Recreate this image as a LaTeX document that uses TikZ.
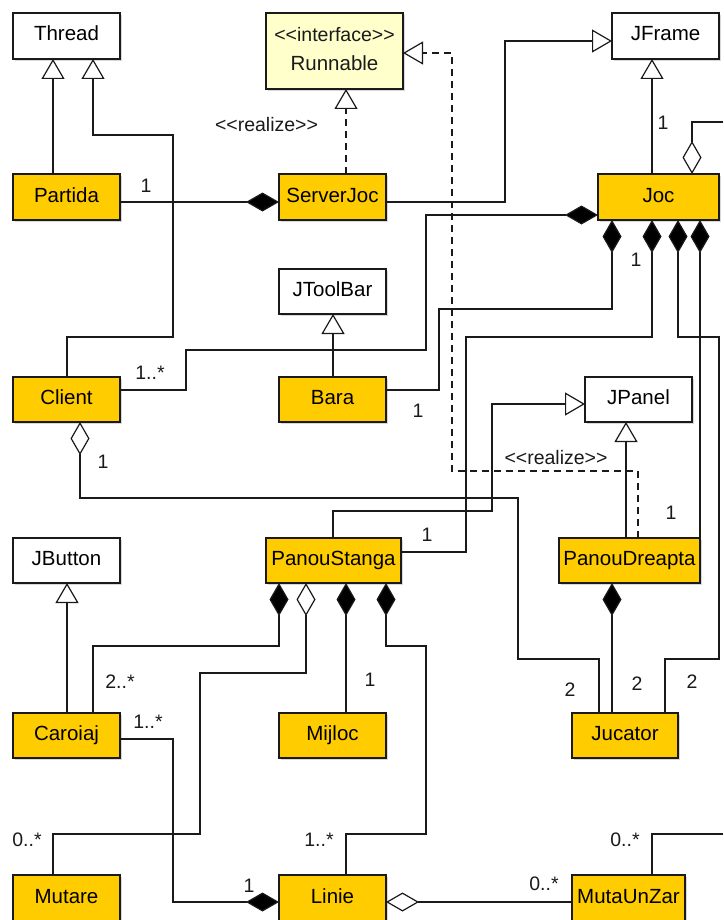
\documentclass[tikz,border=0pt]{standalone}
\usepackage{fontspec}
\setmainfont{Liberation Sans}
\usetikzlibrary{arrows.meta,shadows}
\definecolor{umlorange}{HTML}{FFCC00}
\definecolor{umlpale}{HTML}{FFFFCC}
\definecolor{umlline}{HTML}{1A1A1A}
\begin{document}
\begin{tikzpicture}[x=1pt,y=-1pt,
  font=\fontsize{19.5}{22}\selectfont,
  every node/.style={inner sep=0pt, outer sep=0pt},
  basebox/.style={draw=umlline, line width=1.2pt, text height=14.5pt, text depth=4.5pt,
    font=\fontsize{20.5}{23}\selectfont,
    drop shadow={shadow xshift=2pt, shadow yshift=-2pt, fill=black!30}},
  cls/.style={basebox, fill=umlorange},
  ext/.style={basebox, fill=white},
  iface/.style={basebox, fill=umlpale},
  conn/.style={draw=umlline, line width=1.2pt},
  gen/.style={conn, -{Triangle[fill=white, length=20pt, width=23pt, line width=1.2pt]}},
  real/.style={conn, dash pattern=on 7pt off 5pt, -{Triangle[fill=white, length=20pt, width=23pt, line width=1.2pt, sep=0pt]}},
  comp/.style={conn, -{Diamond[fill=black, length=33pt, width=19pt]}},
  agg/.style={conn, -{Diamond[fill=white, length=33pt, width=19pt, line width=1.2pt]}},
  lbl/.style={text=umlline}
]
\useasboundingbox (0,0) rectangle (723,920);
\clip (0,0) rectangle (723,920);

% external classes
\node[ext, minimum width=107pt, minimum height=46pt] (Thread) at (66.5,36) {Thread};
\node[iface, minimum width=137pt, minimum height=76pt] (Runnable) at (334.5,51) {};
\node[lbl] (RunStereo) at (334.5,35) {<{}<interface>{}>};
\node[lbl, font=\fontsize{20.5}{23}\selectfont] (RunName) at (334.5,63) {Runnable};
\node[ext, minimum width=107pt, minimum height=46pt] (JFrame) at (665.5,36) {JFrame};
\node[ext, minimum width=107pt, minimum height=45pt] (JToolBar) at (332.5,291.5) {JToolBar};
\node[ext, minimum width=107pt, minimum height=45pt] (JPanel) at (638.5,399.5) {JPanel};
\node[ext, minimum width=107pt, minimum height=45pt] (JButton) at (66.5,560.5) {JButton};

% project classes
\node[cls, minimum width=107pt, minimum height=46pt] (Partida) at (66.5,197) {Partida};
\node[cls, minimum width=107pt, minimum height=46pt] (ServerJoc) at (332.5,197) {ServerJoc};
\node[cls, minimum width=121pt, minimum height=46pt] (Joc) at (658.5,197) {Joc};
\node[cls, minimum width=107pt, minimum height=45pt] (Client) at (66.5,399.5) {Client};
\node[cls, minimum width=107pt, minimum height=45pt] (Bara) at (332.5,399.5) {Bara};
\node[cls, minimum width=135pt, minimum height=45pt] (PanouStanga) at (333.5,560.5) {PanouStanga};
\node[cls, minimum width=141pt, minimum height=45pt] (PanouDreapta) at (629.5,560.5) {PanouDreapta};
\node[cls, minimum width=107pt, minimum height=45pt] (Caroiaj) at (66.5,735.5) {Caroiaj};
\node[cls, minimum width=107pt, minimum height=45pt] (Mijloc) at (332.5,735.5) {Mijloc};
\node[cls, minimum width=106pt, minimum height=45pt] (Jucator) at (625,735.5) {Jucator};
\node[cls, minimum width=107pt, minimum height=46pt] (Mutare) at (66.5,898) {Mutare};
\node[cls, minimum width=107pt, minimum height=46pt] (Linie) at (332.5,898) {Linie};
\node[cls, minimum width=113pt, minimum height=46pt] (MutaUnZar) at (628.5,898) {MutaUnZar};

\coordinate (edgeA) at (723,122);
\coordinate (edgeB) at (723,834);

% generalizations
\draw[gen] (53,0 |- Partida.north) -- (53,0 |- Thread.south);
\draw[gen] (67,0 |- Client.north) |- (173,337) |- (93,135) -- (93,0 |- Thread.south);
\draw[gen] (ServerJoc.east |- 0,202) -| (505,41) -- (JFrame.west |- 0,41);
\draw[gen] (652,0 |- Joc.north) -- (652,0 |- JFrame.south);
\draw[gen] (333,0 |- Bara.north) -- (333,0 |- JToolBar.south);
\draw[gen] (67,0 |- Caroiaj.north) -- (67,0 |- JButton.south);
\draw[gen] (626,0 |- PanouDreapta.north) -- (626,0 |- JPanel.south);
\draw[gen] (333,0 |- PanouStanga.north) |- (492,511) |- (JPanel.west |- 0,404);

% realizations
\draw[real] (346,0 |- ServerJoc.north) -- (346,0 |- Runnable.south);
\draw[real] (638,0 |- PanouDreapta.north) |- (452,471) |- (Runnable.east |- 0,53);

% compositions
\draw[comp] (Partida.east |- 0,202) -- (ServerJoc.west |- 0,202);
\draw[comp] (Client.east |- 0,390) -| (186,350) -| (426,215) -- (Joc.west |- 0,215);
\draw[comp] (Bara.east |- 0,390) -| (439,309) -| (612,0 |- Joc.south);
\draw[comp] (PanouStanga.east |- 0,552) -| (466,337) -| (652,0 |- Joc.south);
\draw[comp] (665,0 |- Jucator.north) |- (719,659) |- (678,337) -- (678,0 |- Joc.south);
\draw[comp] (700,0 |- PanouDreapta.north) -- (700,0 |- Joc.south);
\draw[comp] (612,0 |- Jucator.north) -- (612,0 |- PanouDreapta.south);
\draw[comp] (93,0 |- Caroiaj.north) |- (279,646) -- (279,0 |- PanouStanga.south);
\draw[comp] (346,0 |- Mijloc.north) -- (346,0 |- PanouStanga.south);
\draw[comp] (346,0 |- Linie.north) |- (426,834) |- (386,646) -- (386,0 |- PanouStanga.south);
\draw[comp] (Caroiaj.east |- 0,739) -| (173,902) -- (Linie.west |- 0,902);

% aggregations
\draw[agg] (53,0 |- Mutare.north) |- (200,834) |- (306,673) -- (306,0 |- PanouStanga.south);
\draw[agg] (599,0 |- Jucator.north) |- (518,659) |- (80,498) -- (80,0 |- Client.south);
\draw[agg] (MutaUnZar.west |- 0,902) -- (Linie.east |- 0,902);
\draw[conn] (652,0 |- MutaUnZar.north) |- (edgeB);
\draw[agg] (edgeA) -| (692,0 |- Joc.north);

% labels
\node[lbl] (realA) at (266.5,125) {<{}<realize>{}>};
\node[lbl] (realB) at (556,458) {<{}<realize>{}>};
\node[lbl] (m1) at (146,186) {1};
\node[lbl] (m2) at (663,123) {1};
\node[lbl] (m3) at (636,260) {1};
\node[lbl] (m4) at (150,373) {1..*};
\node[lbl] (m5) at (418,411) {1};
\node[lbl] (m6) at (103,462) {1};
\node[lbl] (m7) at (427,535) {1};
\node[lbl] (m8) at (671,513) {1};
\node[lbl] (m9) at (120,682) {2..*};
\node[lbl] (m10) at (370,680) {1};
\node[lbl] (m11) at (570,690) {2};
\node[lbl] (m12) at (637,684) {2};
\node[lbl] (m13) at (692,682) {2};
\node[lbl] (m14) at (148,722) {1..*};
\node[lbl] (m15) at (27,840) {0..*};
\node[lbl] (m16) at (319,840) {1..*};
\node[lbl] (m17) at (249,886) {1};
\node[lbl] (m18) at (544,884) {0..*};
\node[lbl] (m19) at (625,840) {0..*};
\end{tikzpicture}
\end{document}
